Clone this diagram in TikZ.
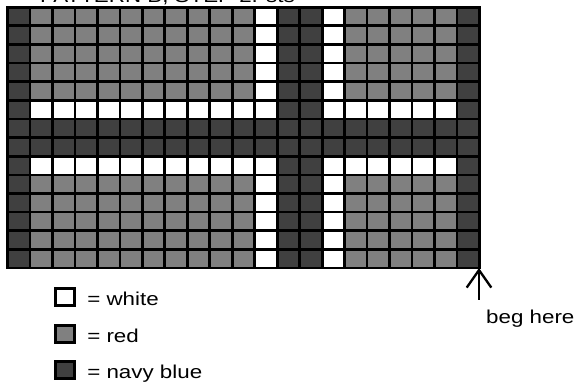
\documentclass[tikz,border=0pt]{standalone}
\usepackage{fontspec}
\setmainfont{Liberation Sans}
\usepackage{tikz}
\usetikzlibrary{arrows.meta, positioning}
\definecolor{navygray}{RGB}{64,64,64}
\definecolor{redgray}{RGB}{128,128,128}
\tikzset{
  cell/.style={draw=black, line width=3.8pt},
  redcell/.style={cell, fill=redgray},
  whitecell/.style={cell, fill=white},
  navycell/.style={cell, fill=navygray},
  keybox/.style={draw=black, line width=3.8pt, minimum width=0.98cm,
    minimum height=0.84cm, inner sep=0pt},
  lbl/.style={font=\fontsize{26.5}{30}\selectfont, inner sep=0pt,
    text height=23.5pt, text depth=0pt, xscale=1.2},
  arrow/.style={-{Straight Barb[length=25pt, width=35pt]}, line width=3.3pt}
}

\begin{document}
\begin{tikzpicture}[x=0.05cm, y=-0.05cm]
    \useasboundingbox (0,0) rectangle (574,383);
    \clip (0,0) rectangle (574,383);
    % title, mostly cut off at the top
    \node[lbl, anchor=base west] (title) at (40,2.5) {PATTERN B, STEP 2: sts};
    % chart: red ground, then white stripes, then navy stripes
    \foreach \c in {0,...,20} {
      \foreach \r in {0,...,13} {
        \draw[redcell] ({7.5+\c*22.476},{7.2+\r*18.63}) rectangle +(22.476,18.63);
      }
    }
    \foreach \r in {5,8} {
      \foreach \c in {0,...,20} {
        \draw[whitecell] ({7.5+\c*22.476},{7.2+\r*18.63}) rectangle +(22.476,18.63);
      }
    }
    \foreach \c in {11,14} {
      \foreach \r in {0,...,13} {
        \draw[whitecell] ({7.5+\c*22.476},{7.2+\r*18.63}) rectangle +(22.476,18.63);
      }
    }
    \foreach \r in {6,7} {
      \foreach \c in {0,...,20} {
        \draw[navycell] ({7.5+\c*22.476},{7.2+\r*18.63}) rectangle +(22.476,18.63);
      }
    }
    \foreach \c in {0,12,13,20} {
      \foreach \r in {0,...,13} {
        \draw[navycell] ({7.5+\c*22.476},{7.2+\r*18.63}) rectangle +(22.476,18.63);
      }
    }
    % key
    \node[keybox, fill=white] (wbox) at (65,297) {};
    \node[keybox, fill=redgray] (rbox) at (65,334) {};
    \node[keybox, fill=navygray] (nbox) at (65,370) {};
    \node[lbl, right=0.55cm of wbox] (wtext) {= white};
    \node[lbl, right=0.55cm of rbox] (rtext) {= red};
    \node[lbl, right=0.55cm of nbox] (ntext) {= navy blue};
    % start mark
    \coordinate (corner) at (479,268);
    \coordinate (tail) at (479,300);
    \draw[arrow] (tail) -- (corner);
    \node[lbl, below right=0.33cm and 0.35cm of tail] (beg) {beg here};
  \end{tikzpicture}
\end{document}
